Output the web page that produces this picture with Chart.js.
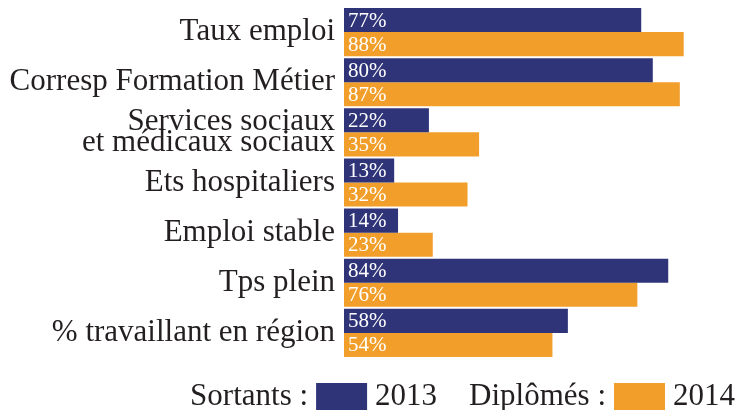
<!DOCTYPE html>
<html>
<head>
<meta charset="utf-8">
<script src="https://cdn.jsdelivr.net/npm/chart.js@4"></script>
<style>
  html, body { margin: 0; padding: 0; background: #fff; }
  #box { width: 738px; height: 410px; }
</style>
</head>
<body>
<div id="box"><canvas id="graphique"></canvas></div>
<script>
const categories = [
    "Taux emploi",
    "Corresp Formation Métier",
    ["Services sociaux", "et médicaux sociaux"],
    "Ets hospitaliers",
    "Emploi stable",
    "Tps plein",
    "% travaillant en région"
];
const series = ["2013", "2014"];
const legendPrefixes = ["Sortants :", "Diplômés :"];
const valeurs2013 = [77, 80, 22, 13, 14, 84, 58];
const valeurs2014 = [88, 87, 35, 32, 23, 76, 54];

const couleurs = ["#2f3478", "#f19f2a"];
const police = "'Liberation Serif', 'Times New Roman', serif";

// etiquettes blanches au debut de chaque barre
const etiquettes = {
    id: "etiquettes",
    afterDatasetsDraw(chart) {
        const ctx = chart.ctx;
        ctx.save();
        ctx.fillStyle = "#ffffff";
        ctx.font = "21px " + police;
        ctx.textBaseline = "middle";
        ctx.textAlign = "left";
        chart.data.datasets.forEach((ds, i) => {
            chart.getDatasetMeta(i).data.forEach((bar, j) => {
                ctx.fillText(ds.data[j] + "%", bar.base + 4, bar.y + 1);
            });
        });
        ctx.restore();
    }
};

// legende du bas : "Sortants : [ ] 2013   Diplômés : [ ] 2014"
const legendeBas = {
    id: "legendeBas",
    afterDraw(chart) {
        const ctx = chart.ctx;
        ctx.save();
        ctx.font = "31px " + police;
        ctx.textBaseline = "alphabetic";
        const boxW = 51, boxH = 27, gap = 8, sep = 32;
        let total = 0;
        series.forEach((s, i) => {
            total += ctx.measureText(legendPrefixes[i]).width + gap + boxW + gap + ctx.measureText(s).width;
            if (i < series.length - 1) total += sep;
        });
        let x = chart.width - 3 - total;
        const yTop = chart.height - boxH;
        const base = chart.height - 5;
        series.forEach((s, i) => {
            ctx.fillStyle = "#231f20";
            ctx.fillText(legendPrefixes[i], x, base);
            x += ctx.measureText(legendPrefixes[i]).width + gap;
            ctx.fillStyle = couleurs[i];
            ctx.fillRect(x, yTop, boxW, boxH);
            x += boxW + gap;
            ctx.fillStyle = "#231f20";
            ctx.fillText(s, x, base);
            x += ctx.measureText(s).width + sep;
        });
        ctx.restore();
    }
};

new Chart(document.getElementById("graphique"), {
    type: "bar",
    data: {
        labels: categories,
        datasets: [
            { label: series[0], data: valeurs2013, backgroundColor: couleurs[0] },
            { label: series[1], data: valeurs2014, backgroundColor: couleurs[1] }
        ]
    },
    options: {
        indexAxis: "y",
        responsive: true,
        maintainAspectRatio: false,
        animation: false,
        categoryPercentage: 0.96,
        barPercentage: 1,
        layout: { padding: { top: 7, right: 8, bottom: 52, left: 0 } },
        plugins: {
            legend: { display: false },
            tooltip: { enabled: false }
        },
        scales: {
            x: { display: false, min: 0, max: 100 },
            y: {
                grid: { display: false, drawTicks: false },
                border: { display: false },
                ticks: {
                    color: "#231f20",
                    padding: 9,
                    font: { family: police, size: 31, lineHeight: 0.66 }
                },
                afterFit(scale) {
                    scale.width = 344;
                    scale.paddingTop = 0;
                    scale.paddingBottom = 0;
                }
            }
        }
    },
    plugins: [etiquettes, legendeBas]
});
</script>
</body>
</html>
